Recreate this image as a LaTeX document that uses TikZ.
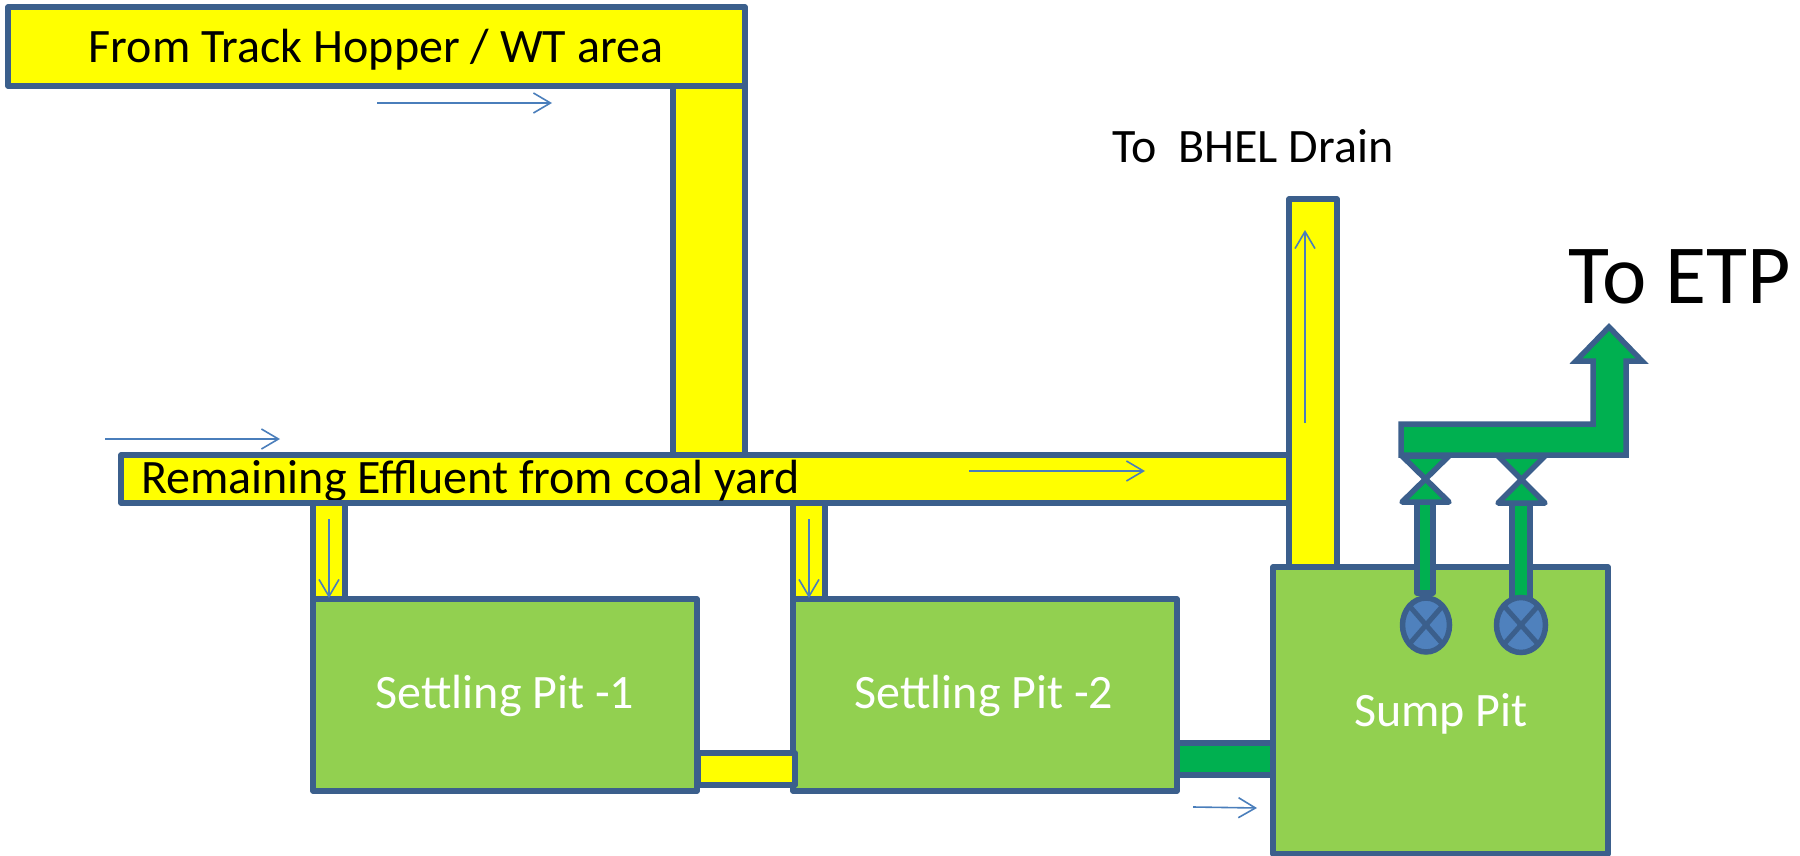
\documentclass[tikz,border=0pt]{standalone}
\usepackage{fontspec}
\setmainfont{Carlito}
\usetikzlibrary{arrows.meta,shapes.geometric}
\definecolor{edgeblue}{HTML}{3B5F8C}
\definecolor{flowblue}{HTML}{4A7EBB}
\definecolor{pitgreen}{HTML}{92D050}
\definecolor{pipegreen}{HTML}{00B050}
\definecolor{ballblue}{HTML}{4F81BD}
\definecolor{pipeyellow}{RGB}{255,255,0}
\tikzset{
  box/.style={draw=edgeblue,line width=5.5pt,line join=round,outer sep=0pt,inner sep=0pt,anchor=north west},
  ypipe/.style={box,fill=pipeyellow},
  gpipe/.style={box,fill=pipegreen},
  pit/.style={box,fill=pitgreen},
  pittext/.style={text=white,font=\fontsize{48}{56}\selectfont,inner sep=0pt},
  flow/.style={draw=flowblue,line width=1.6pt,-{Straight Barb[length=17pt,width=20pt,line width=1.6pt]}},
  ball/.style={ellipse,draw=edgeblue,line width=5.5pt,fill=ballblue,outer sep=0pt,inner sep=0pt},
  valve/.style={draw=edgeblue,line width=5.5pt,line join=round,fill=pipegreen},
  cross/.style={draw=edgeblue,line width=5pt},
}
\begin{document}
\begin{tikzpicture}[x=1pt,y=-1pt]
\useasboundingbox (0,0) rectangle (1800,856);
% top header and drop
\node[ypipe,minimum width=737pt,minimum height=79pt] (hopper) at (8,7) {};
\node[ypipe,minimum width=72pt,minimum height=369pt] (drop) at (673,86) {};
% remaining effluent main
\node[ypipe,minimum width=1170pt,minimum height=48pt] (main) at (121,455) {};
\node[inner sep=0pt,anchor=west,font=\fontsize{48}{56}\selectfont] (maintext) at (141,481) {Remaining Effluent from coal yard};
\node[inner sep=0pt,font=\fontsize{48}{56}\selectfont] (hoppertext) at (376,50) {From Track Hopper / WT area};
% stubs
\node[ypipe,minimum width=32pt,minimum height=96pt] (stubA) at (313,503) {};
\node[ypipe,minimum width=32pt,minimum height=96pt] (stubB) at (793,503) {};
% drain
\node[ypipe,minimum width=48pt,minimum height=369pt] (drain) at (1289,199) {};
% pits
\node[pit,minimum width=384pt,minimum height=192pt] (pitA) at (313,599) {};
\node[pit,minimum width=384pt,minimum height=192pt] (pitB) at (793,599) {};
\node[ypipe,minimum width=97pt,minimum height=32pt] (linkA) at (698,753) {};
\node[gpipe,minimum width=96pt,minimum height=32pt] (linkB) at (1177,743) {};
\node[pit,minimum width=335pt,minimum height=287pt] (sump) at (1273,567) {};
\node[pittext] (pitAtext) at (505,696) {Settling Pit -1};
\node[pittext] (pitBtext) at (984,696) {Settling Pit -2};
\node[pittext] (sumptext) at (1441,714) {Sump Pit};
% labels
\node[inner sep=0pt,font=\fontsize{48}{56}\selectfont] (bhel) at (1253,146) {To~~BHEL Drain};
\node[inner sep=0pt,font=\fontsize{84}{100}\selectfont] (etp) at (1680,277) {To ETP};
% outlet arrow
\draw[valve,line join=miter] (1401,424) -- (1593,424) -- (1593,361) -- (1576,361) -- (1609,327) -- (1642,361) -- (1626,361) -- (1626,455) -- (1401,455) -- cycle;
% pipes
\node[gpipe,minimum width=16pt,minimum height=91pt] (riserA) at (1417,502) {};
\node[gpipe,minimum width=18pt,minimum height=100pt] (riserB) at (1512,502) {};
% valves
\draw[valve] (1402,456) -- (1449,456) -- (1402,502) -- (1449,502) -- cycle;
\draw[valve] (1498,456) -- (1545,456) -- (1498,503) -- (1545,503) -- cycle;
% balls
\node[ball,minimum width=47pt,minimum height=54pt] (ballA) at (1426,625) {};
\node[ball,minimum width=49pt,minimum height=55pt] (ballB) at (1521,625) {};
\draw[cross] (ballA.north west) -- (ballA.south east);
\draw[cross] (ballA.north east) -- (ballA.south west);
\draw[cross] (ballB.north west) -- (ballB.south east);
\draw[cross] (ballB.north east) -- (ballB.south west);
% flow arrows
\coordinate (f1a) at (377,103); \coordinate (f1b) at (552,103);
\coordinate (f2a) at (105,439); \coordinate (f2b) at (280,439);
\coordinate (f3a) at (969,471); \coordinate (f3b) at (1145,471);
\coordinate (f4a) at (329,519); \coordinate (f4b) at (329,598);
\coordinate (f5a) at (809,519); \coordinate (f5b) at (809,598);
\coordinate (f6a) at (1305,423); \coordinate (f6b) at (1305,230);
\coordinate (f7a) at (1193,807); \coordinate (f7b) at (1257,808);
\draw[flow] (f1a) -- (f1b);
\draw[flow] (f2a) -- (f2b);
\draw[flow] (f3a) -- (f3b);
\draw[flow] (f4a) -- (f4b);
\draw[flow] (f5a) -- (f5b);
\draw[flow] (f6a) -- (f6b);
\draw[flow] (f7a) -- (f7b);
\end{tikzpicture}
\end{document}
